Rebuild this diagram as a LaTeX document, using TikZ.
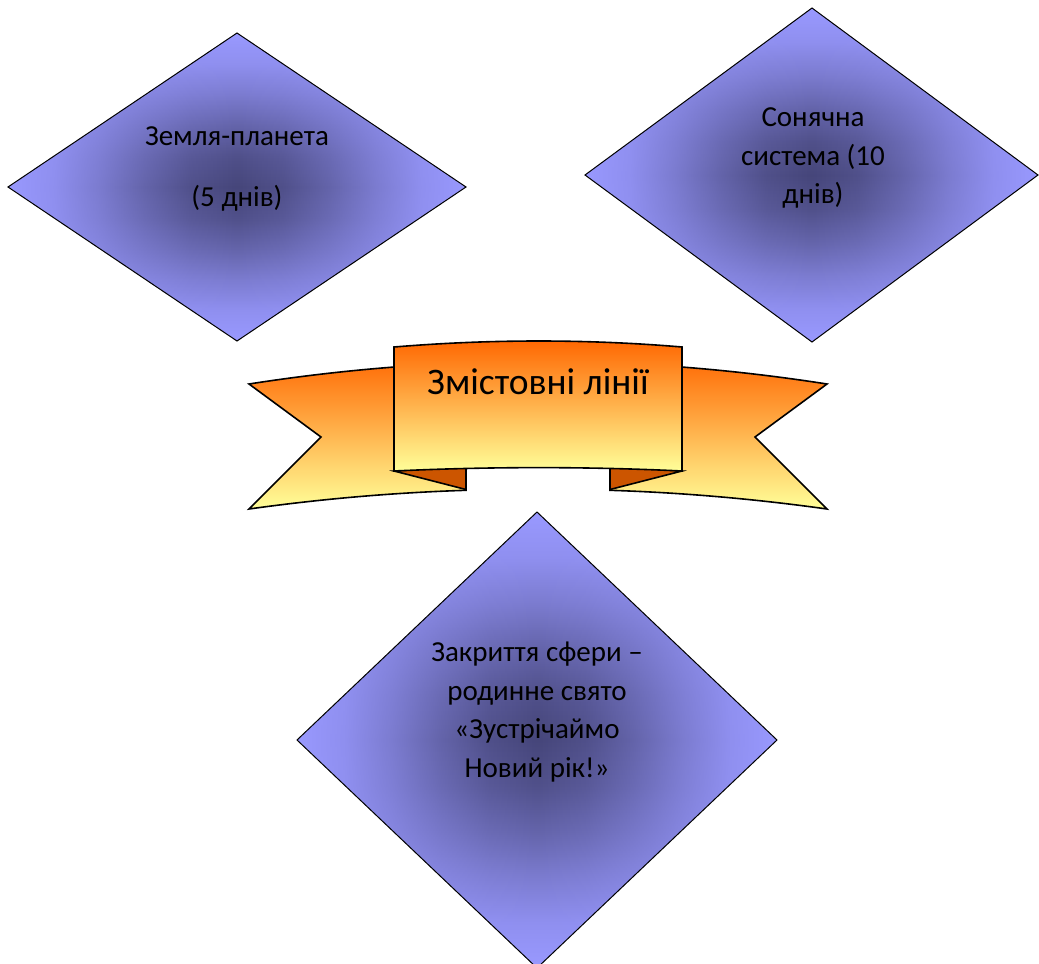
\documentclass[tikz,border=0pt]{standalone}
\usepackage{fontspec}
\setmainfont{Carlito}
\usetikzlibrary{fadings}
\definecolor{lite}{RGB}{153,153,255}
\definecolor{dark}{RGB}{70,70,122}
\definecolor{ribtop}{RGB}{255,102,0}
\definecolor{ribbot}{RGB}{255,255,153}
\definecolor{foldc}{RGB}{204,85,0}
\pgfdeclareverticalshading{dshadev}{100bp}{color(0bp)=(lite); color(25bp)=(lite); color(30bp)=(dark!12!lite); color(35bp)=(dark!36!lite); color(40bp)=(dark!64!lite); color(45bp)=(dark!88!lite); color(50bp)=(dark); color(55bp)=(dark!88!lite); color(60bp)=(dark!64!lite); color(65bp)=(dark!36!lite); color(70bp)=(dark!12!lite); color(75bp)=(lite); color(100bp)=(lite)}
\pgfdeclarehorizontalshading{dshadeh}{100bp}{color(0bp)=(black); color(25bp)=(black); color(30bp)=(white!12!black); color(35bp)=(white!36!black); color(40bp)=(white!64!black); color(45bp)=(white!88!black); color(50bp)=(white); color(55bp)=(white!88!black); color(60bp)=(white!64!black); color(65bp)=(white!36!black); color(70bp)=(white!12!black); color(75bp)=(black); color(100bp)=(black)}
\pgfdeclarefading{dfade}{\pgfuseshading{dshadeh}}
\begin{document}
\begin{tikzpicture}[x=1pt,y=-1pt,
  diamline/.style={draw=black,line width=1pt},
  ribline/.style={draw=black,line width=1.6pt,line join=miter},
  ribfill/.style={top color=ribtop,bottom color=ribbot},
  dtext/.style={align=center,font=\fontsize{29}{38.5}\selectfont,text=black,inner sep=0pt},
  btext/.style={font=\fontsize{37.5}{44}\selectfont,text=black,inner sep=0pt}]
\useasboundingbox (0,0) rectangle (1039,964);
\fill[white] (0,0) rectangle (1039,964);
% ---------- diamond 1
\begin{scope}
\clip (237,33) -- (466,187) -- (237,341) -- (8,187) -- cycle;
\fill[lite] (8,33) rectangle (466,341);
\path[shading=dshadev,path fading=dfade] (8,33) rectangle (466,341);
\end{scope}
\draw[diamline] (237,33) -- (466,187) -- (237,341) -- (8,187) -- cycle;
% ---------- diamond 2
\begin{scope}
\clip (812,8) -- (1038,175) -- (812,342) -- (585,175) -- cycle;
\fill[lite] (585,8) rectangle (1038,342);
\path[shading=dshadev,path fading=dfade] (585,8) rectangle (1038,342);
\end{scope}
\draw[diamline] (812,8) -- (1038,175) -- (812,342) -- (585,175) -- cycle;
% ---------- diamond 3
\begin{scope}
\clip (537,512) -- (777,740) -- (537,968) -- (297,740) -- cycle;
\fill[lite] (297,512) rectangle (777,968);
\path[shading=dshadev,path fading=dfade] (297,512) rectangle (777,968);
\end{scope}
\draw[diamline] (537,512) -- (777,740) -- (537,968) -- (297,740) -- cycle;
% ---------- ribbon back
\path[ribfill,ribline] (249,384) .. controls (441.7,353.9) and (634.3,353.9) .. (827,384)
  -- (755,437) -- (827,509)
  .. controls (754.7,498.9) and (682.3,492.6) .. (610,490.3)
  -- (610,462) -- (466,462) -- (466,490.3)
  .. controls (393.7,492.6) and (321.3,498.9) .. (249,509)
  -- (321,437) -- cycle;
% folds
\path[fill=foldc,ribline] (394,471) -- (466,489.5) -- (466,466) -- cycle;
\path[fill=foldc,ribline] (682,471) -- (610,489.5) -- (610,466) -- cycle;
% front panel
\path[ribfill,ribline] (394,347) .. controls (490.7,339) and (587.3,339) .. (682,347)
  -- (682,471) .. controls (587.3,466.5) and (490.7,466.5) .. (394,471) -- cycle;
% ---------- texts
\node[btext] (title) at (538,382) {Змістовні лінії};
\node[dtext] (t1) at (237,169) {Земля-планета\\[22.5pt](5 днів)};
\node[dtext] (t2) at (813,158) {Сонячна\\система (10\\днів)};
\node[dtext] (t3) at (537,712) {Закриття сфери –\\родинне свято\\«Зустрічаймо\\Новий рік!»};
\end{tikzpicture}
\end{document}
